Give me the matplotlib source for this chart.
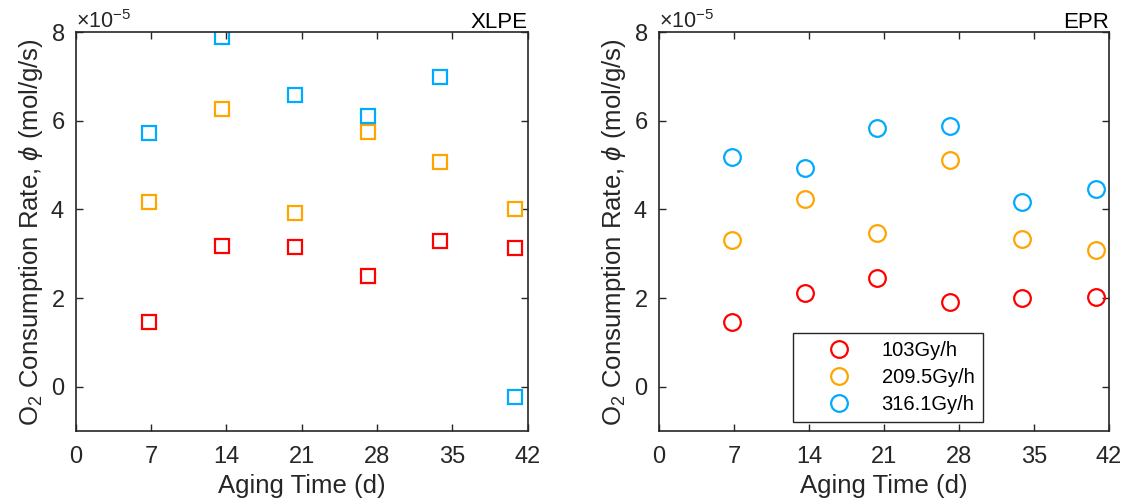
import numpy as np
import matplotlib.pyplot as plt
from matplotlib.ticker import ScalarFormatter

plt.rcParams['font.family'] = ['Liberation Sans', 'DejaVu Sans']
plt.rcParams['mathtext.fontset'] = 'custom'
plt.rcParams['mathtext.rm'] = 'Liberation Sans'
plt.rcParams['mathtext.it'] = 'Liberation Sans:italic'

days = [6.8, 13.6, 20.4, 27.2, 33.9, 40.8]
dose_rates = ["103Gy/h", "209.5Gy/h", "316.1Gy/h"]
colors = ["#ff0000", "#ffa500", "#00aaff"]

# O2 consumption rate, mol/g/s
xlpe_103 = [1.46e-5, 3.17e-5, 3.15e-5, 2.51e-5, 3.28e-5, 3.14e-5]
xlpe_209 = [4.17e-5, 6.27e-5, 3.93e-5, 5.74e-5, 5.06e-5, 4.01e-5]
xlpe_316 = [5.72e-5, 7.89e-5, 6.58e-5, 6.10e-5, 6.99e-5, -0.23e-5]

epr_103 = [1.46e-5, 2.11e-5, 2.46e-5, 1.91e-5, 2.00e-5, 2.02e-5]
epr_209 = [3.30e-5, 4.24e-5, 3.46e-5, 5.12e-5, 3.34e-5, 3.08e-5]
epr_316 = [5.19e-5, 4.94e-5, 5.83e-5, 5.89e-5, 4.17e-5, 4.46e-5]

fig = plt.figure(figsize=(11.22, 5.03), dpi=100)
ax1 = fig.add_axes([0.0677, 0.143, 0.4025, 0.793])
ax2 = fig.add_axes([0.5873, 0.143, 0.401, 0.793])

text_color = "#262626"
tick_fs = 17
label_fs = 18.5


def setup(ax, title):
    ax.set_xlim(0, 42)
    ax.set_ylim(-1e-5, 8e-5)
    ax.set_xticks(np.arange(0, 43, 7))
    ax.set_yticks(np.arange(0, 8.1e-5, 2e-5))
    fmt = ScalarFormatter(useMathText=True)
    fmt.set_powerlimits((-3, 3))
    ax.yaxis.set_major_formatter(fmt)
    ax.yaxis.get_offset_text().set_fontsize(15.5)
    ax.yaxis.get_offset_text().set_color(text_color)
    ax.tick_params(direction='in', top=True, right=True, length=5,
                   width=1, labelsize=tick_fs, colors=text_color)
    ax.tick_params(axis='x', pad=11)
    ax.tick_params(axis='y', pad=8)
    for s in ax.spines.values():
        s.set_color(text_color)
        s.set_linewidth(1.2)
    ax.set_xlabel("Aging Time (d)", fontsize=label_fs, color=text_color,
                  labelpad=4)
    ax.set_ylabel(r"O$_2$ Consumption Rate, $\phi$ (mol/g/s)",
                  fontsize=label_fs, color=text_color, labelpad=4)
    ax.set_title(title, loc='right', fontsize=16, pad=3)


for vals, c in zip([xlpe_103, xlpe_209, xlpe_316], colors):
    ax1.plot(days, vals, linestyle='none', marker='s', markersize=10,
             markerfacecolor='none', markeredgecolor=c, markeredgewidth=1.6)
setup(ax1, "XLPE")

for vals, c, lab in zip([epr_103, epr_209, epr_316], colors, dose_rates):
    ax2.plot(days, vals, linestyle='none', marker='o', markersize=12,
             markerfacecolor='none', markeredgecolor=c, markeredgewidth=1.6,
             label=lab)
setup(ax2, "EPR")

leg = ax2.legend(loc='lower left', bbox_to_anchor=(0.298, 0.023),
                 fontsize=14.5, frameon=True, fancybox=False,
                 edgecolor=text_color, framealpha=1, handletextpad=0.2,
                 borderpad=0.4, labelspacing=0.4, handlelength=3.8,
                 borderaxespad=0)
leg.get_frame().set_linewidth(1.0)

fig.savefig("out.png", dpi=100)
